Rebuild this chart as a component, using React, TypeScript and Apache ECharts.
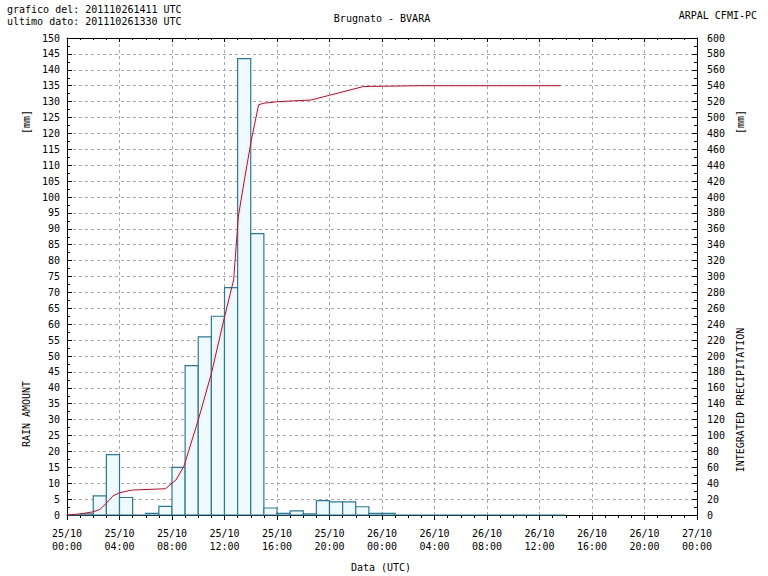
import React, { useEffect, useRef } from "react";
import * as echarts from "echarts";

// Hourly rain amount [mm], bar i covers hour i..i+1 from 25/10 00:00
const rainAmount = [
  0, 0.4, 6, 19, 5.5, 0, 0.5, 2.7, 15, 47, 56, 62.5, 71.5, 143.5, 88.5, 2.2,
  0.5, 1.3, 0.4, 4.5, 4.1, 4.1, 2.6, 0.5, 0.5, 0, 0, 0, 0, 0, 0, 0, 0, 0, 0, 0,
  0, 0,
];

// Integrated precipitation line (hours from 25/10 00:00, mm)
const lineHours = [
  0, 1, 2, 2.5, 3, 3.5, 4, 4.7, 5, 7.5, 8, 8.3, 8.9, 10, 11, 12, 12.7, 13.05,
  13.55, 14.05, 14.6, 15, 16.1, 18.6, 20, 22.6, 27, 37.6,
];
const lineValues = [
  0, 1.3, 4, 7, 14.7, 24, 28, 30.5, 31.4, 33, 40, 44, 61, 119.5, 178, 249, 296,
  375, 425, 472, 516, 518, 520, 522, 528, 539, 540, 540,
];

const xDays = ["25/10", "26/10", "27/10"];

const headerLines = [
  "grafico del: 201110261411 UTC",
  "ultimo dato: 201110261330 UTC",
];
const titleText = "Brugnato - BVARA";
const sourceText = "ARPAL CFMI-PC";

const FONT = "DejaVu Sans Mono";

export default function App() {
  const ref = useRef<HTMLDivElement>(null);

  useEffect(() => {
    if (!ref.current) return;
    const chart = echarts.init(ref.current, undefined, { renderer: "svg" });

    const barData = rainAmount.map((v, i) => [i, v]);
    const lineData = lineHours.map((h, i) => [h, lineValues[i]]);

    const xFormatter = (v: number) => {
      const d = Math.floor(v / 24);
      const hh = v % 24;
      return `${xDays[d]}\n${hh < 10 ? "0" + hh : hh}:00`;
    };

    const textStyle = (extra: any) => ({
      fontFamily: FONT,
      fontSize: 10,
      fill: "#000",
      ...extra,
    });

    chart.setOption({
      animation: false,
      backgroundColor: "#fff",
      textStyle: { fontFamily: FONT },
      grid: { left: 67, right: 71, top: 38, bottom: 61 },
      xAxis: [
        {
          type: "value",
          position: "bottom",
          min: 0,
          max: 48,
          interval: 4,
          axisLine: { show: true, onZero: false, lineStyle: { color: "#000", width: 1 } },
          axisTick: { show: true, inside: false, length: 5, lineStyle: { color: "#000" } },
          minorTick: { show: true, splitNumber: 4, length: 3, lineStyle: { color: "#000" } },
          axisLabel: {
            formatter: xFormatter,
            fontFamily: FONT,
            fontSize: 10,
            color: "#000",
            lineHeight: 13,
            margin: 12,
          },
          splitLine: {
            show: true,
            lineStyle: { color: "#a8a8a8", type: [3, 3], width: 1 },
          },
        },
        {
          type: "value",
          position: "top",
          min: 0,
          max: 48,
          interval: 4,
          axisLine: { show: true, onZero: false, lineStyle: { color: "#000", width: 1 } },
          axisTick: { show: true, inside: true, length: 4, lineStyle: { color: "#000" } },
          minorTick: { show: true, splitNumber: 4, length: 2, lineStyle: { color: "#000" } },
          axisLabel: { show: false },
          splitLine: { show: false },
        },
      ],
      yAxis: [
        {
          type: "value",
          position: "left",
          min: 0,
          max: 150,
          interval: 5,
          axisLine: { show: true, onZero: false, lineStyle: { color: "#000", width: 1 } },
          axisTick: { show: true, inside: true, length: 5, lineStyle: { color: "#000" } },
          minorTick: { show: true, splitNumber: 2, length: 3, lineStyle: { color: "#000" } },
          axisLabel: { fontFamily: FONT, fontSize: 10, color: "#000", margin: 7 },
          splitLine: {
            show: true,
            lineStyle: { color: "#a8a8a8", type: [3, 3], width: 1 },
          },
        },
        {
          type: "value",
          position: "right",
          min: 0,
          max: 600,
          interval: 20,
          axisLine: { show: true, onZero: false, lineStyle: { color: "#000", width: 1 } },
          axisTick: { show: true, inside: true, length: 5, lineStyle: { color: "#000" } },
          minorTick: { show: true, splitNumber: 2, length: 3, lineStyle: { color: "#000" } },
          axisLabel: { fontFamily: FONT, fontSize: 10, color: "#000", margin: 10 },
          splitLine: { show: false },
        },
      ],
      series: [
        {
          type: "custom",
          name: "RAIN AMOUNT",
          xAxisIndex: 0,
          yAxisIndex: 0,
          data: barData,
          encode: { x: 0, y: 1 },
          renderItem: (params: any, api: any) => {
            const h = api.value(0);
            const v = api.value(1);
            const p0 = api.coord([h, 0]);
            const p1 = api.coord([h + 1, v]);
            return {
              type: "rect",
              shape: {
                x: p0[0],
                y: p1[1],
                width: p1[0] - p0[0],
                height: p0[1] - p1[1],
              },
              style: { fill: "#eefafd", stroke: "#2f7891", lineWidth: 1.2 },
            };
          },
          z: 2,
        },
        {
          type: "line",
          name: "INTEGRATED PRECIPITATION",
          xAxisIndex: 0,
          yAxisIndex: 1,
          data: lineData,
          showSymbol: false,
          symbol: "none",
          lineStyle: {
            color: "#a01530",
            width: 1,
            shadowColor: "rgba(255,120,140,0.45)",
            shadowBlur: 3,
          },
          z: 3,
        },
      ],
      graphic: [
        {
          type: "text",
          x: 7,
          y: 3,
          style: textStyle({ text: headerLines[0], lineHeight: 12, verticalAlign: "top" }),
        },
        {
          type: "text",
          x: 7,
          y: 15,
          style: textStyle({ text: headerLines[1], lineHeight: 12, verticalAlign: "top" }),
        },
        {
          type: "text",
          x: 382,
          y: 18,
          style: textStyle({ text: titleText, align: "center", verticalAlign: "middle" }),
        },
        {
          type: "text",
          x: 757,
          y: 15,
          style: textStyle({ text: sourceText, align: "right", verticalAlign: "middle" }),
        },
        {
          type: "text",
          x: 381,
          y: 567,
          style: textStyle({ text: "Data (UTC)", align: "center", verticalAlign: "middle" }),
        },
        {
          type: "text",
          x: 26,
          y: 122,
          rotation: Math.PI / 2,
          style: textStyle({ text: "[mm]", align: "center", verticalAlign: "middle" }),
        },
        {
          type: "text",
          x: 26,
          y: 414,
          rotation: Math.PI / 2,
          style: textStyle({ text: "RAIN AMOUNT", align: "center", verticalAlign: "middle" }),
        },
        {
          type: "text",
          x: 740,
          y: 122,
          rotation: Math.PI / 2,
          style: textStyle({ text: "[mm]", align: "center", verticalAlign: "middle" }),
        },
        {
          type: "text",
          x: 740,
          y: 400,
          rotation: Math.PI / 2,
          style: textStyle({
            text: "INTEGRATED PRECIPITATION",
            align: "center",
            verticalAlign: "middle",
          }),
        },
      ],
    });

    return () => {
      chart.dispose();
    };
  }, []);

  return (
    <div
      ref={ref}
      style={{ position: "absolute", left: 0, top: 0, width: 768, height: 576 }}
    />
  );
}
